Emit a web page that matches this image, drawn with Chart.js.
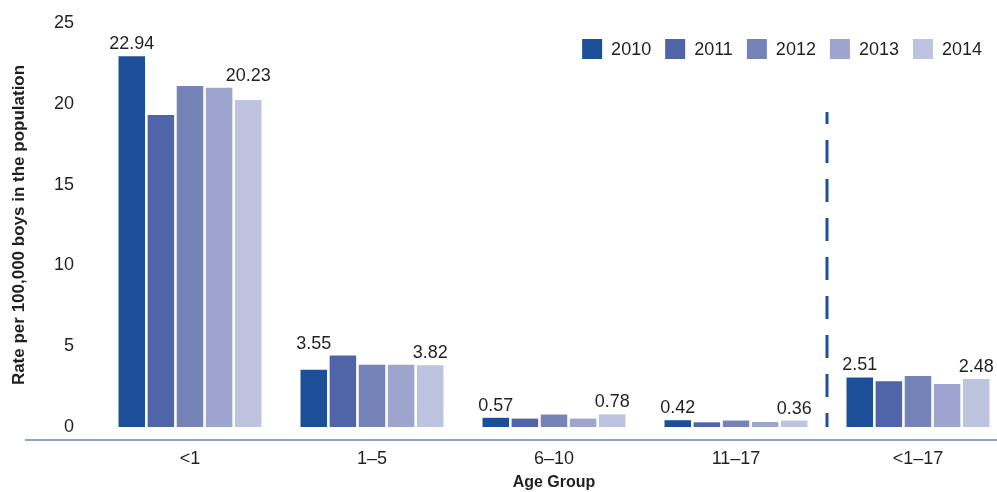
<!DOCTYPE html>
<html>
<head>
<meta charset="utf-8">
<script src="https://cdn.jsdelivr.net/npm/chart.js@4"></script>
<style>
  body { margin: 0; background: #fff; }
  #wrap { width: 997px; height: 492px; }
</style>
</head>
<body>
<div id="wrap"><canvas id="ageChart"></canvas></div>
<script>
const ageGroups = ["<1", "1–5", "6–10", "11–17", "<1–17"];
const years = ["2010", "2011", "2012", "2013", "2014"];

const rate2010 = [22.94, 3.55, 0.57, 0.42, 3.07];
const rate2011 = [19.3, 4.42, 0.52, 0.29, 2.83];
const rate2012 = [21.1, 3.85, 0.77, 0.4, 3.16];
const rate2013 = [21.0, 3.85, 0.52, 0.31, 2.66];
const rate2014 = [20.23, 3.82, 0.78, 0.4, 2.97];

// value labels printed above the first and last bar of each group
const labels2010 = ["22.94", "3.55", "0.57", "0.42", "2.51"];
const labels2014 = ["20.23", "3.82", "0.78", "0.36", "2.48"];

const yTicks = [0, 5, 10, 15, 20, 25];

const colors = ["#1d4f99", "#5064a8", "#7683b8", "#9da5cf", "#bec3df"];
const font = "'Liberation Sans', Arial, sans-serif";
const textColor = "#231f20";

const series = [rate2010, rate2011, rate2012, rate2013, rate2014];

// labels above bars, lifted over a taller neighbour bar
const barLabels = {
    id: 'barLabels',
    afterDatasetsDraw(chart) {
        const ctx = chart.ctx;
        ctx.save();
        ctx.font = "18px " + font;
        ctx.fillStyle = textColor;
        ctx.textAlign = 'center';
        ctx.textBaseline = 'alphabetic';
        [[0, 1, labels2010], [4, 3, labels2014]].forEach(([ds, nb, texts]) => {
            const bars = chart.getDatasetMeta(ds).data;
            const next = chart.getDatasetMeta(nb).data;
            bars.forEach((bar, i) => {
                const top = Math.min(bar.y, next[i].y);
                ctx.fillText(texts[i], bar.x, top - 7);
            });
        });
        ctx.restore();
    }
};

// legend row in the top right corner, inside the plot
const yearLegend = {
    id: 'yearLegend',
    afterDraw(chart) {
        const ctx = chart.ctx;
        ctx.save();
        ctx.font = "18px " + font;
        ctx.textBaseline = 'middle';
        ctx.textAlign = 'left';
        let x = 982;
        const sets = chart.data.datasets;
        for (let i = sets.length - 1; i >= 0; i--) {
            const w = ctx.measureText(sets[i].label).width;
            x -= w;
            ctx.fillStyle = textColor;
            ctx.fillText(sets[i].label, x, 50);
            x -= 9 + 20;
            ctx.fillStyle = sets[i].backgroundColor;
            ctx.fillRect(x, 39, 20, 20);
            x -= 14;
        }
        ctx.restore();
    }
};

// baseline under the bars and dashed divider before the total group
const decorations = {
    id: 'decorations',
    afterDatasetsDraw(chart) {
        const ctx = chart.ctx;
        const area = chart.chartArea;
        const x = chart.scales.x;
        const y = chart.scales.y;
        ctx.save();
        ctx.strokeStyle = "#90a4c4";
        ctx.lineWidth = 2;
        ctx.beginPath();
        ctx.moveTo(25, area.bottom + 13);
        ctx.lineTo(chart.width, area.bottom + 13);
        ctx.stroke();

        const dx = (x.getPixelForValue(3) + x.getPixelForValue(4)) / 2;
        ctx.strokeStyle = "#1f4f9a";
        ctx.lineWidth = 3;
        ctx.setLineDash([23, 16]);
        ctx.lineDashOffset = 11;
        ctx.beginPath();
        ctx.moveTo(dx, y.getPixelForValue(19.5));
        ctx.lineTo(dx, area.bottom);
        ctx.stroke();
        ctx.restore();
    }
};

new Chart(document.getElementById('ageChart').getContext('2d'), {
    type: 'bar',
    data: {
        labels: ageGroups,
        datasets: years.map((yr, i) => ({
            label: yr,
            data: series[i],
            backgroundColor: colors[i],
            borderWidth: 0,
            categoryPercentage: 0.8,
            barPercentage: 0.91,
            clip: false
        }))
    },
    options: {
        responsive: true,
        maintainAspectRatio: false,
        animation: false,
        layout: {
            padding: { top: 23, right: 79, left: 0, bottom: 0 }
        },
        scales: {
            x: {
                offset: false,
                grid: { display: false },
                border: { display: false },
                ticks: {
                    font: { family: font, size: 18 },
                    color: textColor,
                    padding: 13
                },
                title: {
                    display: true,
                    text: 'Age Group',
                    font: { family: font, size: 16, weight: 'bold' },
                    color: textColor,
                    padding: { top: 0, bottom: 0 }
                },
                afterFit(scale) {
                    scale.height = 65;
                    scale.paddingLeft = 0;
                    scale.paddingRight = 0;
                }
            },
            y: {
                min: 0,
                max: 25,
                grid: { display: false, drawTicks: false },
                border: { display: false },
                afterBuildTicks(scale) {
                    scale.ticks = yTicks.map(v => ({ value: v }));
                },
                ticks: {
                    font: { family: font, size: 18 },
                    color: textColor,
                    padding: 116
                },
                title: {
                    display: true,
                    text: 'Rate per 100,000 boys in the population',
                    font: { family: font, size: 17, weight: 'bold' },
                    color: textColor,
                    padding: { top: 9, bottom: 0 }
                },
                afterFit(scale) {
                    scale.width = 190;
                    scale.paddingTop = 0;
                    scale.paddingBottom = 0;
                }
            }
        },
        plugins: {
            legend: { display: false },
            tooltip: { enabled: false }
        }
    },
    plugins: [barLabels, yearLegend, decorations]
});
</script>
</body>
</html>
